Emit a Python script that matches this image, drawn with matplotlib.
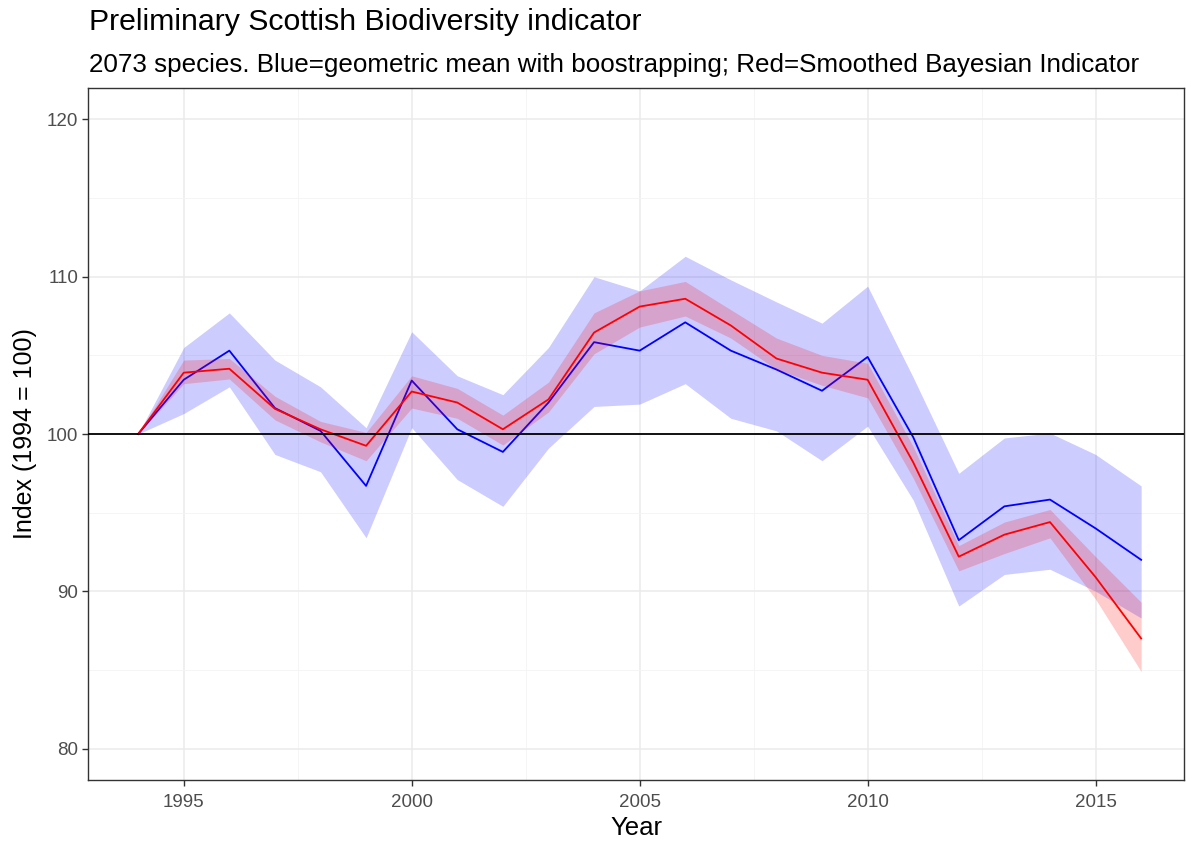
import matplotlib
matplotlib.use("Agg")
import matplotlib.pyplot as plt
from matplotlib.ticker import MultipleLocator

plt.rcParams["font.family"] = ["Liberation Sans", "DejaVu Sans"]

years = list(range(1994, 2017))

# geometric mean with bootstrapping (blue)
blue = [100, 103.45, 105.3, 101.65, 100.2, 96.7, 103.4, 100.3, 98.86, 102.0, 105.84, 105.3,
        107.1, 105.3, 104.1, 102.75, 104.9, 99.8, 93.25, 95.4, 95.83, 94.0, 92.0]
blue_lo = [100, 101.3, 103.0, 98.7, 97.6, 93.4, 100.4, 97.1, 95.4, 99.1, 101.75, 101.9,
           103.2, 101.0, 100.2, 98.3, 100.5, 95.8, 89.06, 91.07, 91.4, 90.0, 88.3]
blue_hi = [100, 105.5, 107.7, 104.7, 103.0, 100.4, 106.5, 103.7, 102.5, 105.5, 110.0, 109.1,
           111.3, 109.8, 108.4, 107.05, 109.4, 103.6, 97.5, 99.75, 100.06, 98.7, 96.7]

# smoothed Bayesian indicator (red)
red = [100, 103.9, 104.15, 101.6, 100.3, 99.25, 102.7, 102.0, 100.3, 102.2, 106.45, 108.1,
       108.6, 106.9, 104.8, 103.9, 103.45, 98.2, 92.2, 93.6, 94.4, 90.9, 87.0]
red_lo = [100, 103.2, 103.5, 100.9, 99.5, 98.3, 101.65, 101.0, 99.3, 101.4, 105.1, 106.8,
          107.5, 106.1, 104.1, 103.1, 102.3, 97.2, 91.3, 92.4, 93.4, 89.5, 84.9]
red_hi = [100, 104.7, 104.8, 102.4, 100.8, 100.1, 103.7, 102.9, 101.2, 103.3, 107.7, 109.1,
          109.7, 107.9, 106.1, 105.0, 104.5, 99.2, 92.9, 94.4, 95.2, 92.2, 89.3]

W, H = 1186, 846
fig = plt.figure(figsize=(W / 100, H / 100), dpi=100)
ax = fig.add_axes([88 / W, 1 - 780 / H, (1184 - 88) / W, (780 - 88) / H])

ax.fill_between(years, blue_lo, blue_hi, color="blue", alpha=0.2, linewidth=0, zorder=2)
ax.plot(years, blue, color="blue", linewidth=1.3, zorder=3)
ax.fill_between(years, red_lo, red_hi, color="red", alpha=0.2, linewidth=0, zorder=4)
ax.plot(years, red, color="red", linewidth=1.3, zorder=5)
ax.axhline(100, color="black", linewidth=1.3, zorder=6)

ax.set_xlim(1992.9, 2016.94)
ax.set_ylim(78, 122)
ax.xaxis.set_major_locator(MultipleLocator(5))
ax.xaxis.set_minor_locator(MultipleLocator(2.5))
ax.yaxis.set_major_locator(MultipleLocator(10))
ax.yaxis.set_minor_locator(MultipleLocator(5))
ax.grid(True, which="major", color="#ebebeb", linewidth=1.1, zorder=0)
ax.grid(True, which="minor", color="#f4f4f4", linewidth=0.6, zorder=0)
ax.set_axisbelow(True)

for s in ax.spines.values():
    s.set_color("#333333")
    s.set_linewidth(1.0)
ax.tick_params(which="major", length=4, width=1, color="#333333", labelcolor="#4d4d4d",
               labelsize=13.5, pad=3)
ax.tick_params(axis="x", pad=6)
ax.tick_params(which="minor", length=0)

ax.set_xlabel("Year", fontsize=18.5, labelpad=4)
ax.set_ylabel("Index (1994 = 100)", fontsize=18, labelpad=7)

fig.text(89 / W, 1 - 30 / H, "Preliminary Scottish Biodiversity indicator", fontsize=21.8,
         ha="left", va="baseline")
fig.text(89 / W, 1 - 72 / H,
         "2073 species. Blue=geometric mean with boostrapping; Red=Smoothed Bayesian Indicator",
         fontsize=18.7, ha="left", va="baseline")

fig.savefig("out.png", dpi=100)
